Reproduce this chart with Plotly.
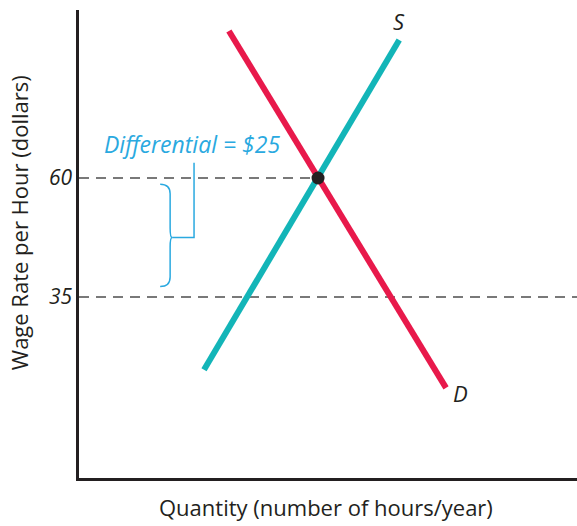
import plotly.graph_objects as go

# ---- data ----
supply_q = [25.1, 64.3]
supply_w = [19.7, 89.0]
demand_q = [30.1, 73.7]
demand_w = [90.9, 15.9]
eq_q = [48.0]
eq_w = [60]
wage_high = 60
wage_low = 35
tick_vals = [35, 60]
tick_text = ["35", "60"]
differential_label = "Differential = $25"

TEAL = "#13b5b8"
RED = "#e8194b"
BLUE = "#2aa9e0"
DARK = "#231f20"
FONT = "Open Sans"

fig = go.Figure()

# dashed reference lines
fig.add_trace(go.Scatter(x=[0, eq_q[0]], y=[wage_high, wage_high], mode="lines",
                         line=dict(color="#4d4d4d", width=1.5, dash="10px,7px"),
                         hoverinfo="skip", showlegend=False))
fig.add_trace(go.Scatter(x=[0, 100], y=[wage_low, wage_low], mode="lines",
                         line=dict(color="#4d4d4d", width=1.5, dash="10px,7px"),
                         hoverinfo="skip", showlegend=False))

# supply and demand
fig.add_trace(go.Scatter(x=supply_q, y=supply_w, mode="lines",
                         line=dict(color=TEAL, width=6), showlegend=False))
fig.add_trace(go.Scatter(x=demand_q, y=demand_w, mode="lines",
                         line=dict(color=RED, width=6), showlegend=False))
fig.add_trace(go.Scatter(x=eq_q, y=eq_w, mode="markers",
                         marker=dict(color=DARK, size=13), showlegend=False))

# brace (in data coordinates)
x0, xm, xt = 16.3, 18.3, 18.7
ytop, ybot = wage_high - 1.3, wage_low + 2.2
ymid = (wage_high + wage_low) / 2
r = 2.0
path = (f"M {x0},{ytop} Q {xm},{ytop} {xm},{ytop - r} "
        f"L {xm},{ymid + r} Q {xm},{ymid} {xt},{ymid} "
        f"Q {xm},{ymid} {xm},{ymid - r} "
        f"L {xm},{ybot + r} Q {xm},{ybot} {x0},{ybot}")
shapes = [
    dict(type="path", path=path, xref="x", yref="y", line=dict(color=BLUE, width=1.5)),
    dict(type="path", path=f"M {xt},{ymid} L 23.1,{ymid} L 23.1,63.2",
         xref="x", yref="y", line=dict(color=BLUE, width=1.5)),
]

annotations = [
    dict(x=22.6, y=63.4, xref="x", yref="y", text=differential_label, showarrow=False,
         yanchor="bottom", xanchor="center",
         font=dict(family=FONT, size=23, color=BLUE, style="italic")),
    dict(x=64.3, y=89.5, xref="x", yref="y", text="S", showarrow=False,
         yanchor="bottom", xanchor="center",
         font=dict(family=FONT, size=22, color=DARK, style="italic")),
    dict(x=74.6, y=18.5, xref="x", yref="y", text="D", showarrow=False,
         yanchor="top", xanchor="left",
         font=dict(family=FONT, size=22, color=DARK, style="italic")),
    dict(x=0.495, y=-0.025, xref="paper", yref="paper", text="Quantity (number of hours/year)",
         showarrow=False, yanchor="top", xanchor="center",
         font=dict(family=FONT, size=22, color=DARK)),
    dict(x=-0.12, y=0.545, xref="paper", yref="paper", text="Wage Rate per Hour (dollars)",
         showarrow=False, textangle=-90, xanchor="center", yanchor="middle",
         font=dict(family=FONT, size=22, color=DARK)),
]

fig.update_layout(
    width=577, height=526,
    margin=dict(l=79, r=0, t=10, b=48),
    plot_bgcolor="white", paper_bgcolor="white",
    shapes=shapes, annotations=annotations,
    xaxis=dict(range=[0, 100], showgrid=False, zeroline=False, showticklabels=False,
               ticks="", showline=True, linecolor=DARK, linewidth=2.5),
    yaxis=dict(range=[-3.03, 95.3], showgrid=False, zeroline=False,
               tickvals=tick_vals, ticktext=tick_text, ticks="",
               tickfont=dict(family=FONT, size=21, color=DARK, style="italic"),
               showline=True, linecolor=DARK, linewidth=2.5),
)

fig.write_html(
    "out.html",
    config={"displayModeBar": False},
    post_script="document.body.style.margin='0';document.body.style.overflow='hidden';",
)
